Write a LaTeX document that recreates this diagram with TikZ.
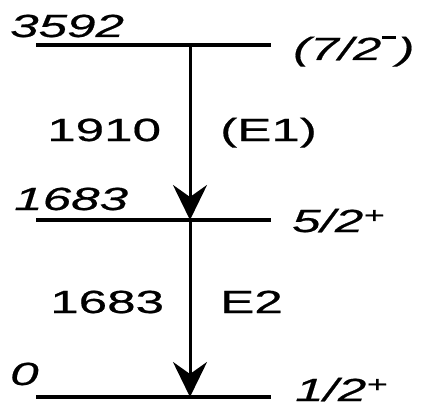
\documentclass[tikz,border=0pt]{standalone}
\usepackage{fontspec}
\usepackage{tikz}
\usetikzlibrary{arrows.meta}
\newfontfamily\lvlfont[FakeStretch=1.6, FakeBold=0.6]{Liberation Sans}
\newcommand{\lvl}{\lvlfont\fontsize{32}{36}\selectfont}
\newcommand{\negsup}{\kern1pt\rule[21.5pt]{14pt}{3pt}\kern1pt}

\begin{document}
\begin{tikzpicture}[x=1pt, y=1pt, every node/.style={font=\lvl, inner sep=0pt, anchor=base west},
  level/.style={line width=3.5pt},
  gamma/.style={line width=3pt, -{Stealth[length=35pt, width=34pt, inset=12pt]}}]
\useasboundingbox (0,0) rectangle (426,408);
% levels
\coordinate (A1) at (36,363);
\coordinate (A2) at (271,363);
\coordinate (B1) at (36,188);
\coordinate (B2) at (271,188);
\coordinate (C1) at (36,11);
\coordinate (C2) at (271,11);
\draw[level] (A1) -- (A2);
\draw[level] (B1) -- (B2);
\draw[level] (C1) -- (C2);
\node (eA) at (10,371) {\itshape 3592};
\node (eB) at (14,198) {\itshape 1683};
\node (eC) at (10,23) {\itshape 0};
\node (jA) at (293,348) {\itshape (7/2\negsup)};
\node (jB) at (292,176) {\itshape 5/2\textsuperscript{+}};
\node (jC) at (295,7) {\itshape 1/2\textsuperscript{+}};
% transitions
\coordinate (tA) at (190,363);
\coordinate (tB) at (190,188);
\coordinate (tC) at (190,11);
\draw[gamma] (tA) -- (tB);
\draw[gamma] (tB) -- (tC);
\node (gA) at (47,267) {1910};
\node (mA) at (220,267) {(E1)};
\node (gB) at (50,95) {1683};
\node (mB) at (220,95) {E2};
\end{tikzpicture}
\end{document}
